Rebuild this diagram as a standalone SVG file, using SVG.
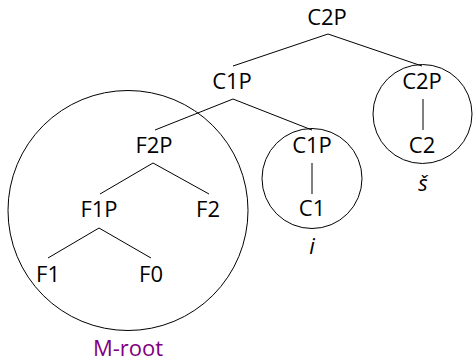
<svg xmlns="http://www.w3.org/2000/svg" width="473" height="361" viewBox="0 0 473 361">
<style>
text{font-family:"Open Sans","Liberation Sans",sans-serif;font-size:22px;fill:#000;text-anchor:middle}
.it{font-style:italic}
.purple{fill:#800080}
line,circle{stroke:#000;stroke-width:1;fill:none}
</style>
<rect width="473" height="361" fill="#fff"/>
<g id="connectors">
<line x1="328" y1="34" x2="233" y2="66"/>
<line x1="328" y1="34" x2="422" y2="66"/>
<line x1="233" y1="99" x2="155" y2="130"/>
<line x1="233" y1="99" x2="312" y2="130"/>
<line x1="423" y1="99" x2="423" y2="130"/>
<line x1="312" y1="163" x2="312" y2="194"/>
<line x1="153" y1="163" x2="100" y2="194"/>
<line x1="153" y1="163" x2="209" y2="194"/>
<line x1="99" y1="228" x2="48" y2="258"/>
<line x1="99" y1="228" x2="151" y2="258"/>
</g>
<g id="groups">
<circle id="g-mroot" cx="128" cy="210.5" r="120"/>
<circle id="g-i" cx="312" cy="178.5" r="50"/>
<circle id="g-s" cx="422.5" cy="114" r="49.5"/>
</g>
<g id="n-c2p-top"><text x="327" y="25">C2P</text></g>
<g id="n-c1p-top"><text x="232" y="89">C1P</text></g>
<g id="n-c2p"><text x="422" y="89">C2P</text></g>
<g id="n-c2"><text x="422" y="153">C2</text></g>
<g id="n-s"><text class="it" x="423" y="191">š</text></g>
<g id="n-f2p"><text x="154" y="153">F2P</text></g>
<g id="n-c1p"><text x="312" y="153">C1P</text></g>
<g id="n-c1"><text x="312" y="216">C1</text></g>
<g id="n-i"><text class="it" x="312" y="254">i</text></g>
<g id="n-f1p"><text x="99" y="217">F1P</text></g>
<g id="n-f2"><text x="208" y="217">F2</text></g>
<g id="n-f1"><text x="48" y="282">F1</text></g>
<g id="n-f0"><text x="151" y="282">F0</text></g>
<g id="n-mroot"><text class="purple" x="128" y="356">M-root</text></g>
</svg>
